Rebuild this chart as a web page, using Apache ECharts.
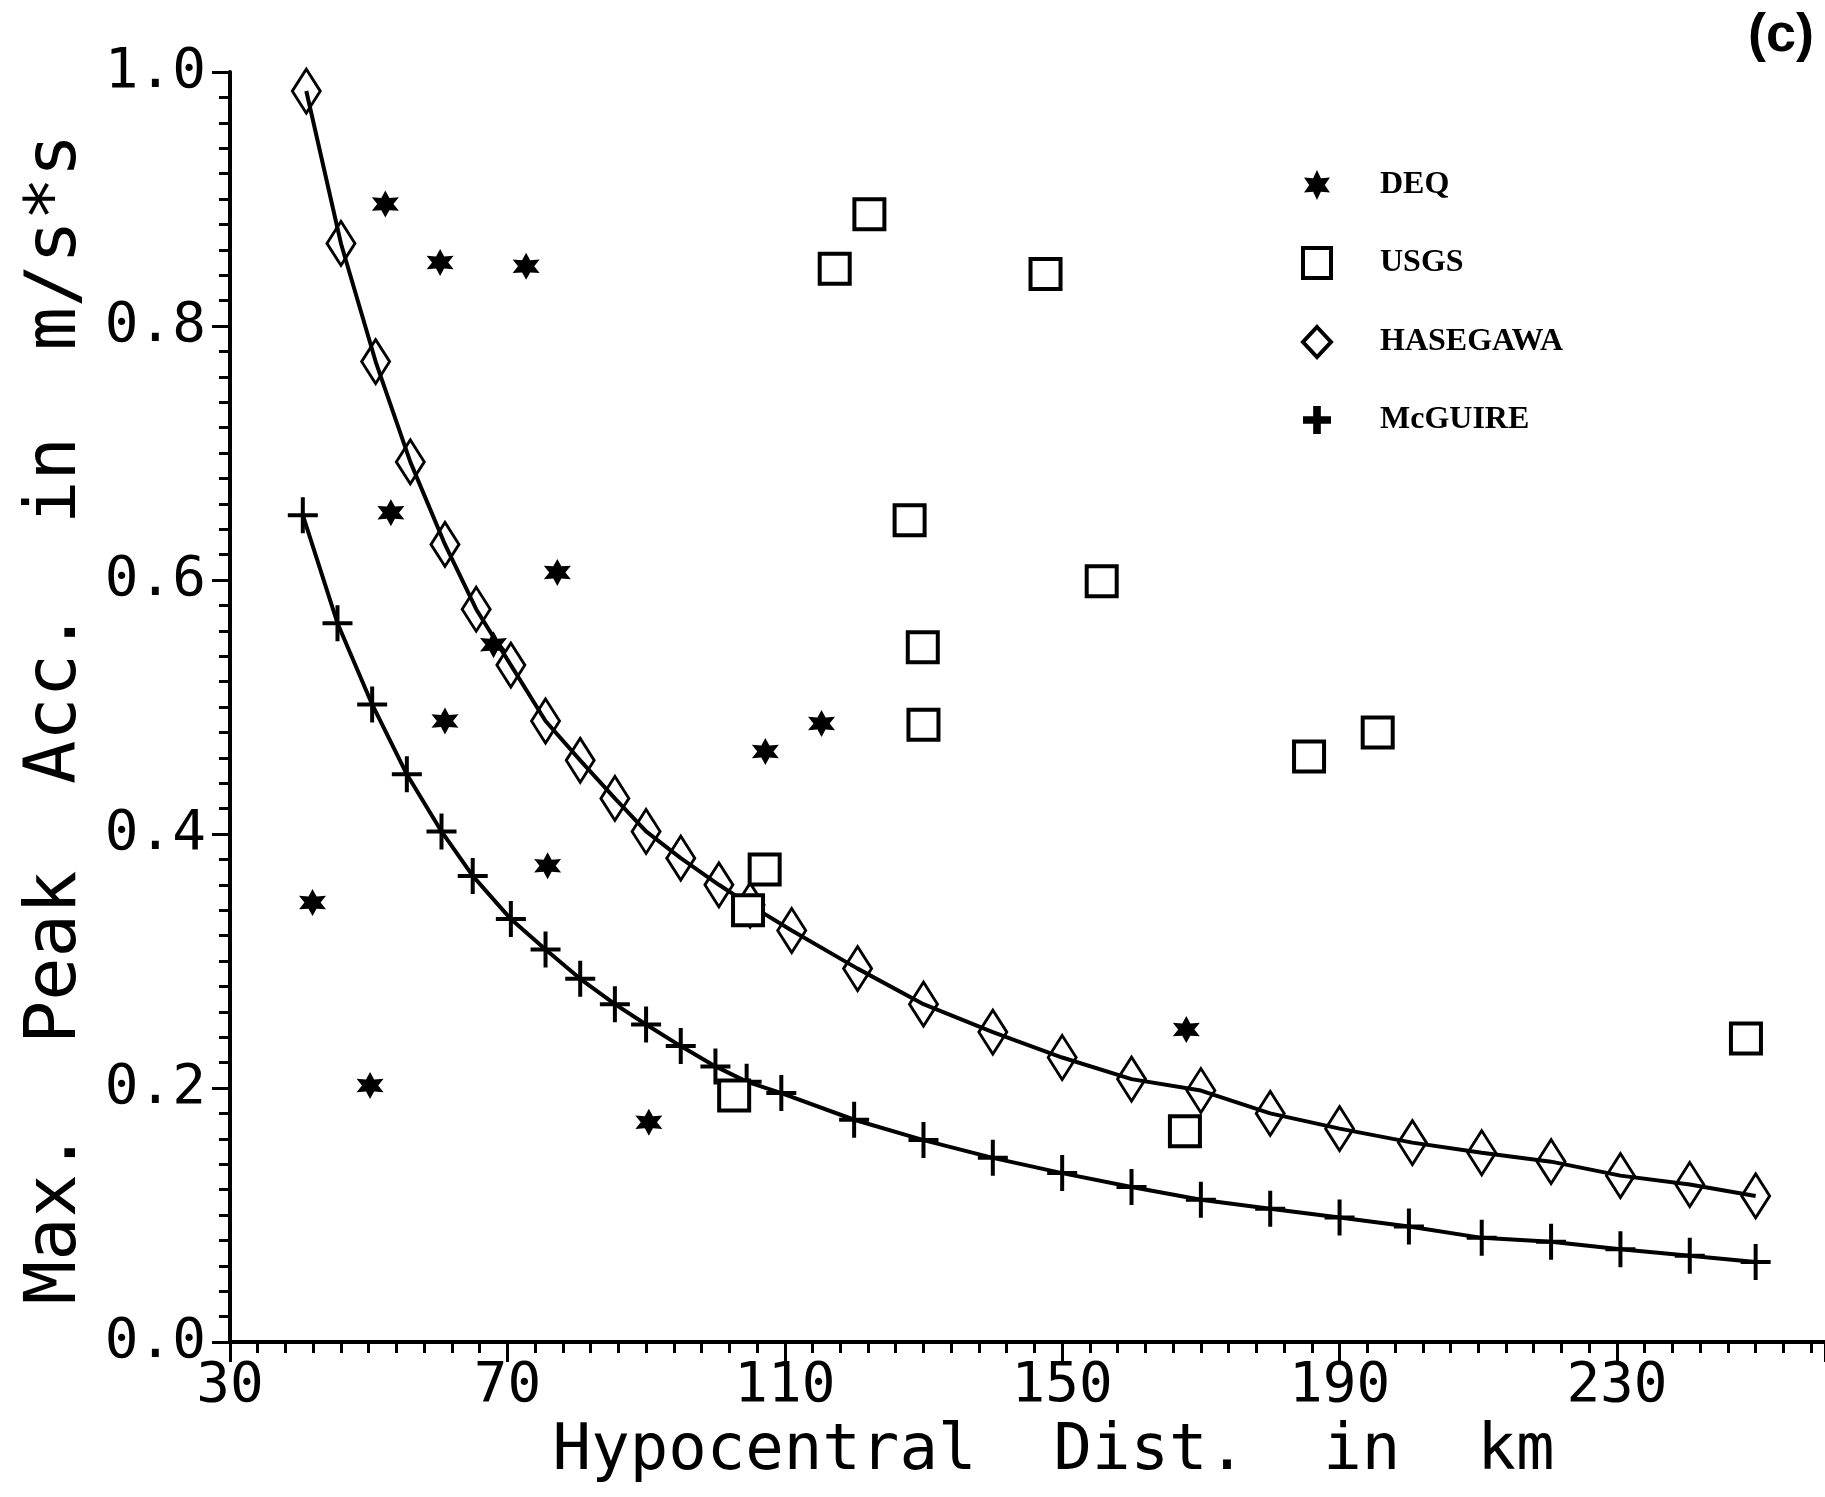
<!DOCTYPE html>
<html>
<head>
<meta charset="utf-8">
<script src="https://cdn.jsdelivr.net/npm/echarts@6/dist/echarts.min.js"></script>
<style>
  html, body { margin: 0; padding: 0; background: #fff; }
  #chart { width: 1825px; height: 1497px; }
</style>
</head>
<body>
<div id="chart"></div>
<script>
// values
const xTickLabels = [30, 70, 110, 150, 190, 230]
const yTickLabels = ['0.0', '0.2', '0.4', '0.6', '0.8', '1.0']

const deqX = [41.9, 50.2, 52.4, 53.2, 60.3, 61.0, 68.0, 72.7, 75.8, 77.2, 90.4, 107.2, 115.3, 167.9]
const deqY = [0.346, 0.202, 0.896, 0.653, 0.850, 0.489, 0.549, 0.847, 0.375, 0.606, 0.173, 0.465, 0.487, 0.246]

const usgsX = [102.7, 104.7, 107.1, 117.2, 122.2, 128.0, 129.9, 130.0, 147.6, 155.7, 167.7, 185.6, 195.5, 248.6]
const usgsY = [0.194, 0.340, 0.372, 0.845, 0.888, 0.647, 0.547, 0.486, 0.841, 0.599, 0.166, 0.461, 0.480, 0.239]

const hasegawaX = [41, 46, 51, 56, 61, 65.5, 70.5, 75.5, 80.5, 85.5, 90, 95, 100.5, 105, 111,
  120.5, 130, 140, 150, 160, 170, 180, 190, 200.5, 210.5, 220.5, 230.5, 240.5, 250]
const hasegawaY = [0.985, 0.865, 0.772, 0.693, 0.628, 0.577, 0.533, 0.489, 0.458, 0.428, 0.402, 0.381, 0.360, 0.344, 0.324,
  0.294, 0.266, 0.244, 0.224, 0.207, 0.198, 0.180, 0.168, 0.157, 0.149, 0.142, 0.131, 0.124, 0.115]

const mcguireX = [40.5, 45.5, 50.5, 55.5, 60.5, 65, 70.5, 75.5, 80.5, 85.5, 90, 95, 100, 104.5, 109.5,
  120, 130, 140, 150, 160, 170, 180, 190, 200, 210.5, 220.5, 230.5, 240.5, 250]
const mcguireY = [0.651, 0.566, 0.502, 0.447, 0.402, 0.367, 0.333, 0.309, 0.286, 0.266, 0.250, 0.233, 0.217, 0.205, 0.196,
  0.175, 0.159, 0.145, 0.133, 0.122, 0.112, 0.105, 0.098, 0.091, 0.082, 0.079, 0.073, 0.068, 0.063]

function pairs(xs, ys){
  return xs.map((x, i) => [x, ys[i]])
}

// six pointed star used for the DEQ marks
function starPath(){
  let d = ''
  for (let i = 0; i < 12; i++) {
    const r = i % 2 === 0 ? 10 : 5.2
    const a = Math.PI / 6 * i - Math.PI / 2
    d += (i === 0 ? 'M' : 'L') + (10 + r * Math.cos(a)).toFixed(2) + ',' + (10 + r * Math.sin(a)).toFixed(2)
  }
  return 'path://' + d + 'Z'
}
const STAR = starPath()
const THIN_PLUS = 'path://M13,0H17V16H30V20H17V36H13V20H0V16H13Z'
const BOLD_PLUS = 'path://M8,0H14V8H22V14H14V22H8V14H0V8H8Z'

const MONO = 'DejaVu Sans Mono'

const chart = echarts.init(document.getElementById('chart'), null, { width: 1825, height: 1497 })

const option = {
  backgroundColor: '#fff',
  animation: false,
  title: {
    text: '(c)',
    right: 6,
    top: 4,
    textStyle: { fontFamily: 'Liberation Sans', fontWeight: 'bold', fontSize: 54, color: '#000' }
  },
  legend: {
    orient: 'vertical',
    left: 1296,
    top: 164,
    itemWidth: 28,
    itemHeight: 30,
    itemGap: 45,
    textStyle: { fontFamily: 'Liberation Serif', fontWeight: 'bold', fontSize: 32, color: '#000', padding: [0, 0, 0, 44] },
    data: [
      { name: 'DEQ', icon: STAR, itemStyle: { color: '#000', borderWidth: 0, opacity: 1 } },
      { name: 'USGS', icon: 'rect', itemStyle: { color: '#fff', borderColor: '#000', borderWidth: 4, opacity: 1 } },
      { name: 'HASEGAWA', icon: 'diamond', itemStyle: { color: '#fff', borderColor: '#000', borderWidth: 4, opacity: 1 } },
      { name: 'McGUIRE', icon: BOLD_PLUS, itemStyle: { color: '#000', borderWidth: 0, opacity: 1 } }
    ]
  },
  grid: {
    left: 230,
    right: 0,
    top: 72,
    bottom: 155,
    containLabel: false,
    outerBoundsMode: 'none'
  },
  xAxis: {
    type: 'value',
    min: 30,
    max: 260,
    interval: 40,
    name: 'Hypocentral  Dist.  in  km',
    nameLocation: 'middle',
    nameGap: 78,
    nameTextStyle: { fontFamily: MONO, fontSize: 64, color: '#000', padding: [0, 0, 0, 52] },
    axisLine: { lineStyle: { color: '#000', width: 4 } },
    axisTick: { show: true, inside: false, length: 20, lineStyle: { color: '#000', width: 3 } },
    minorTick: { show: true, splitNumber: 10, length: 11, lineStyle: { color: '#000', width: 3 } },
    splitLine: { show: false },
    axisLabel: {
      margin: 16,
      showMaxLabel: false,
      fontFamily: MONO,
      fontSize: 56,
      color: '#000',
      formatter: v => xTickLabels.includes(v) ? String(v) : ''
    }
  },
  yAxis: {
    type: 'value',
    min: 0,
    max: 1,
    interval: 0.2,
    name: 'Max.  Peak  Acc.  in  m/s*s',
    nameLocation: 'middle',
    nameGap: 138,
    nameTextStyle: { fontFamily: MONO, fontSize: 72, color: '#000', padding: [0, 24, 0, 0] },
    axisLine: { show: true, lineStyle: { color: '#000', width: 4 } },
    axisTick: { show: true, inside: false, length: 18, lineStyle: { color: '#000', width: 3 } },
    minorTick: { show: true, splitNumber: 10, length: 11, lineStyle: { color: '#000', width: 3 } },
    splitLine: { show: false },
    axisLabel: {
      margin: 24,
      fontFamily: MONO,
      fontSize: 56,
      color: '#000',
      formatter: v => yTickLabels[Math.round(v / 0.2)] || ''
    }
  },
  series: [
    {
      name: 'DEQ',
      type: 'scatter',
      symbol: STAR,
      symbolSize: 27,
      itemStyle: { color: '#000', opacity: 1 },
      data: pairs(deqX, deqY)
    },
    {
      name: 'USGS',
      type: 'scatter',
      symbol: 'rect',
      symbolSize: 30,
      itemStyle: { color: '#fff', borderColor: '#000', borderWidth: 4, opacity: 1 },
      data: pairs(usgsX, usgsY),
      z: 3
    },
    {
      name: 'HASEGAWA',
      type: 'line',
      symbol: 'diamond',
      symbolSize: [28, 44],
      showAllSymbol: true,
      lineStyle: { color: '#000', width: 4 },
      itemStyle: { color: 'rgba(255,255,255,0)', borderColor: '#000', borderWidth: 3 },
      data: pairs(hasegawaX, hasegawaY),
      z: 2
    },
    {
      name: 'McGUIRE',
      type: 'line',
      symbol: THIN_PLUS,
      symbolSize: [30, 36],
      showAllSymbol: true,
      lineStyle: { color: '#000', width: 4 },
      itemStyle: { color: '#000', borderWidth: 0 },
      data: pairs(mcguireX, mcguireY),
      z: 2
    }
  ]
}

chart.setOption(option)
</script>
</body>
</html>
